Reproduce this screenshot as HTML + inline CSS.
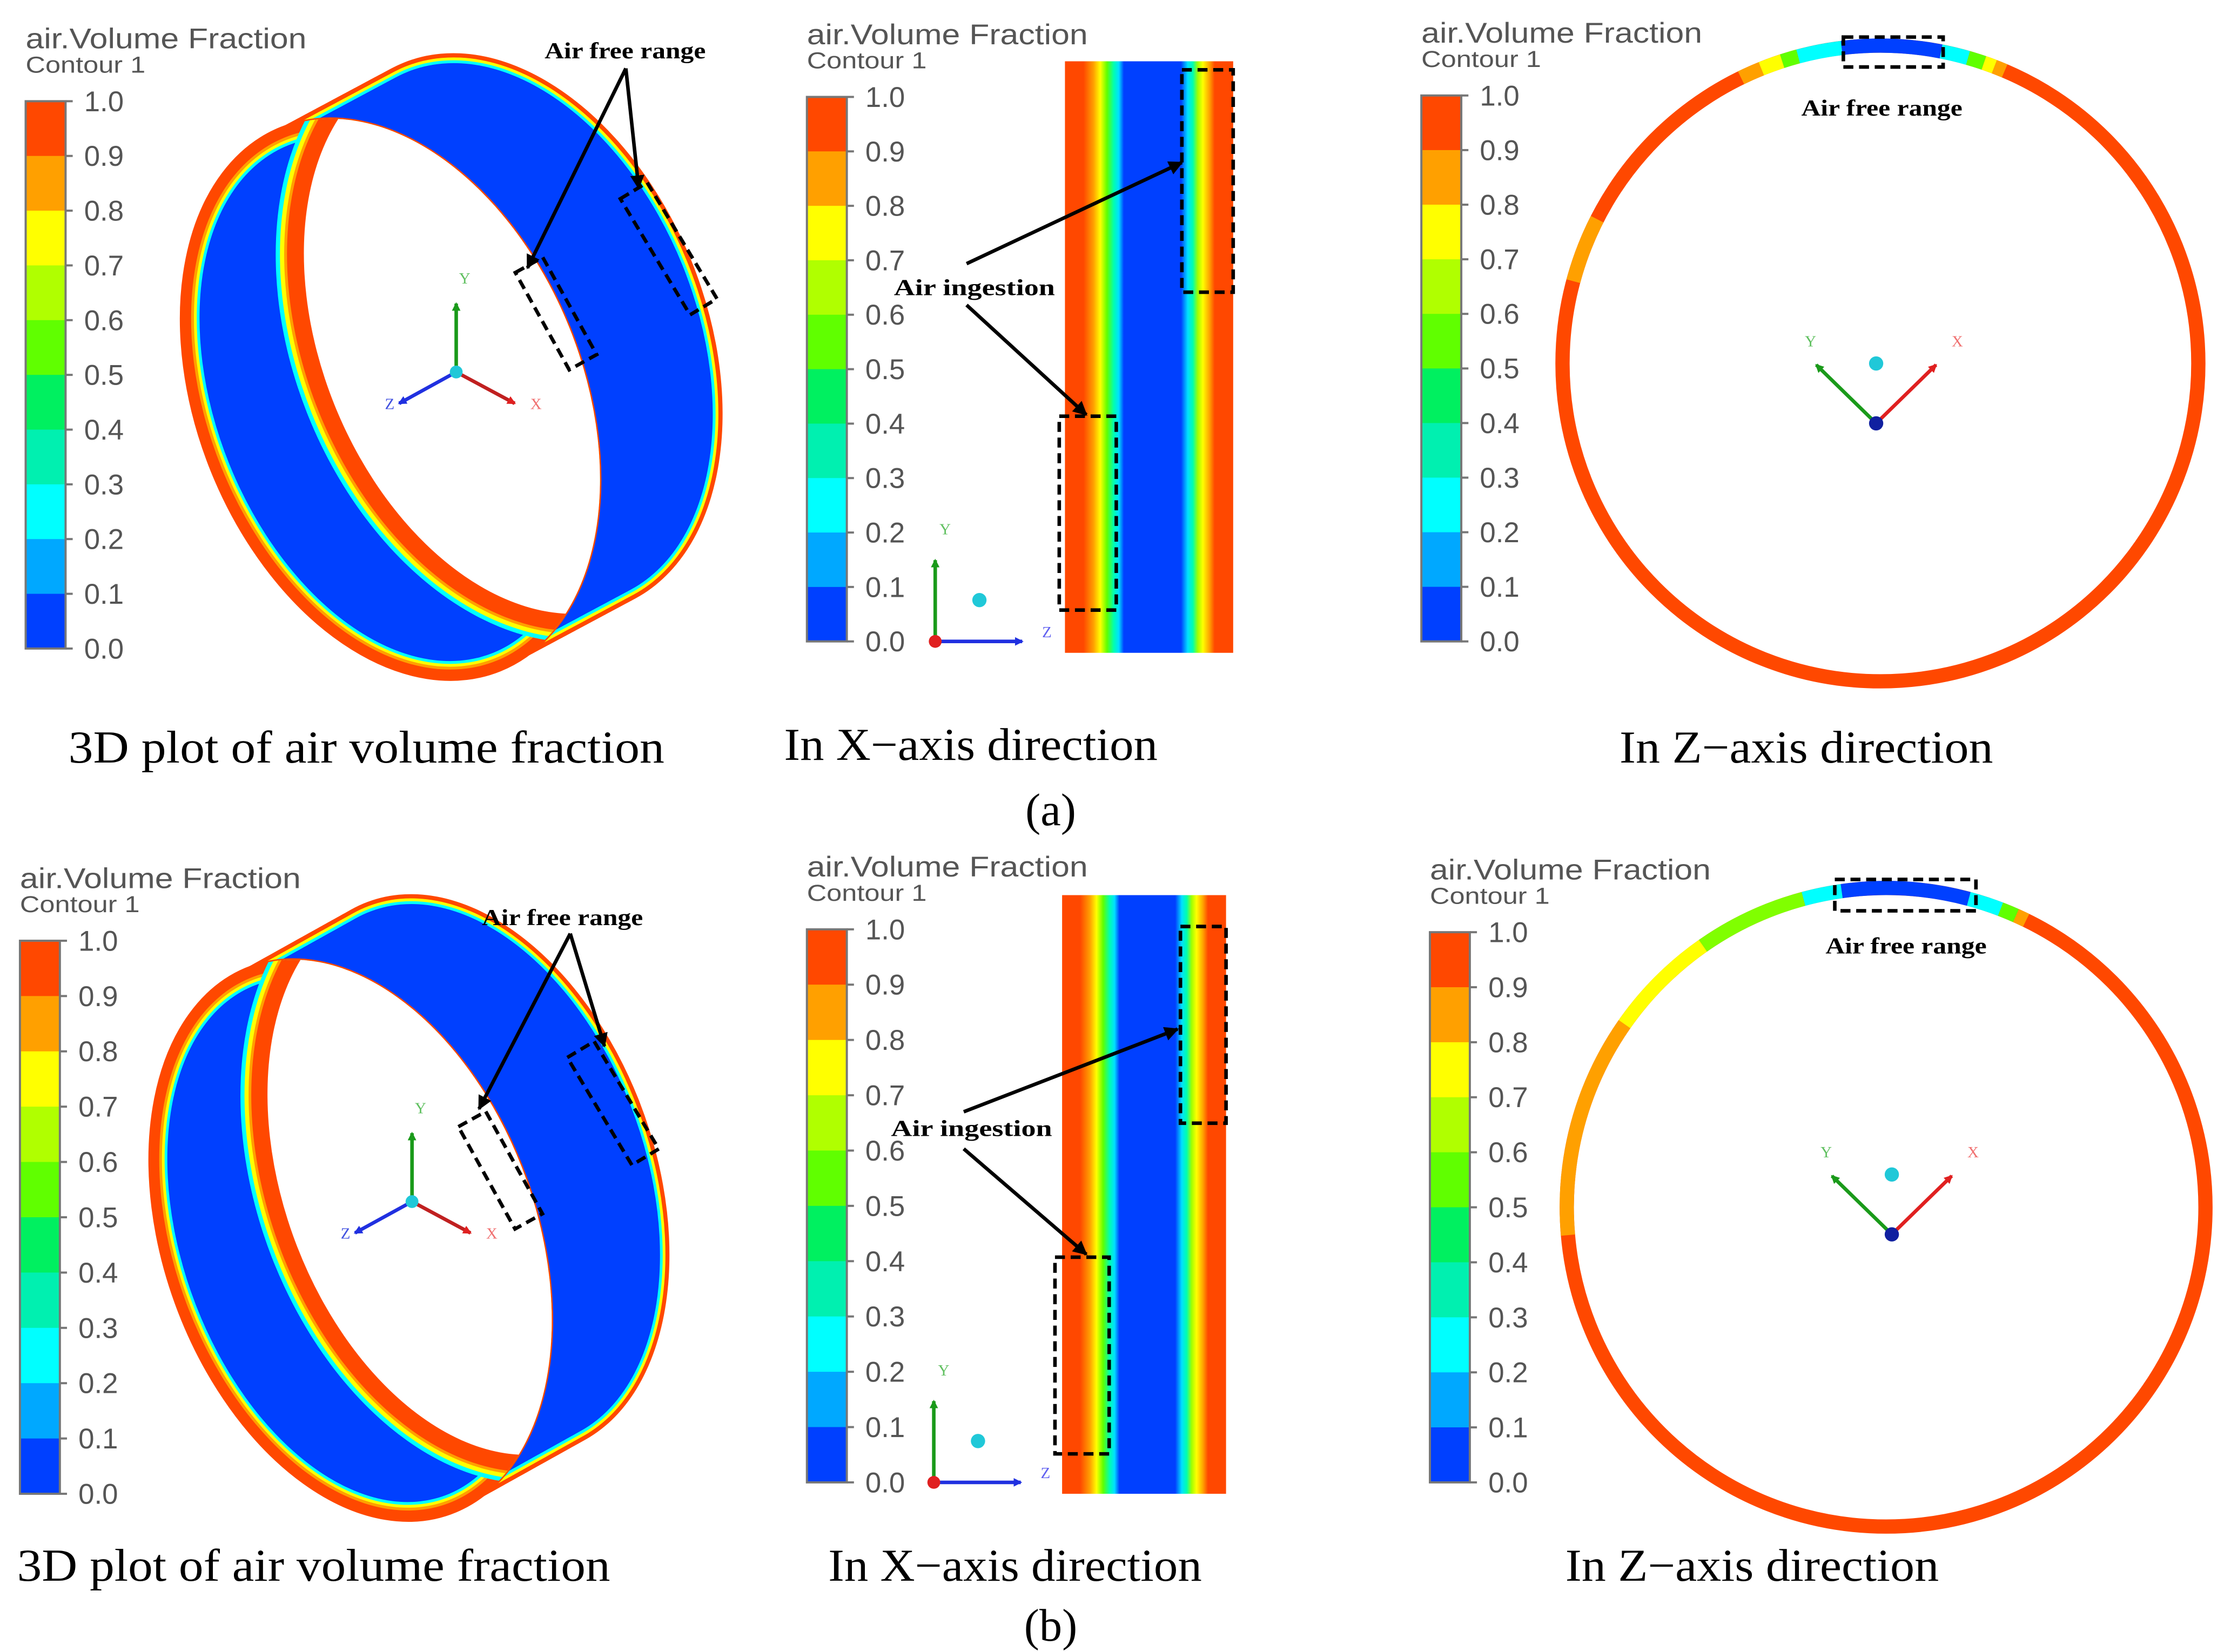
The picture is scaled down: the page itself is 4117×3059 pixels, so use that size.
<!DOCTYPE html>
<html><head><meta charset="utf-8"><style>
html,body{margin:0;padding:0;background:#fff;}
svg{display:block;}
.t{font-family:"Liberation Sans",sans-serif;fill:#555;}
.c{font-family:"Liberation Serif",serif;fill:#000;}
</style></head><body>
<svg id="fig" width="4117" height="3059" viewBox="0 0 1560 1159" preserveAspectRatio="none" xmlns="http://www.w3.org/2000/svg">
<defs>
<linearGradient id="gx" x1="0" x2="1" y1="0" y2="0">
<stop offset="0" stop-color="#ff4800"/><stop offset="0.11" stop-color="#ff4800"/>
<stop offset="0.17" stop-color="#ffa000"/><stop offset="0.21" stop-color="#ffff00"/>
<stop offset="0.25" stop-color="#60ff00"/><stop offset="0.29" stop-color="#00ffb0"/>
<stop offset="0.32" stop-color="#00e0ff"/><stop offset="0.35" stop-color="#0040ff"/>
<stop offset="0.69" stop-color="#0040ff"/><stop offset="0.73" stop-color="#00e0ff"/>
<stop offset="0.76" stop-color="#00ffb0"/><stop offset="0.79" stop-color="#a0ff00"/>
<stop offset="0.82" stop-color="#ffff00"/><stop offset="0.86" stop-color="#ffa000"/>
<stop offset="0.89" stop-color="#ff4800"/><stop offset="1" stop-color="#ff4800"/>
</linearGradient>
<marker id="ah" markerWidth="10" markerHeight="10" refX="9" refY="5" orient="auto" markerUnits="userSpaceOnUse" viewBox="0 0 10 10"><path d="M0,0 L10,5 L0,10 z" fill="#000"/></marker>
<marker id="ahg" markerWidth="6" markerHeight="6" refX="5" refY="3" orient="auto" markerUnits="userSpaceOnUse" viewBox="0 0 6 6"><path d="M0,0 L6,3 L0,6 z" fill="#1a9a1a"/></marker>
<marker id="ahb" markerWidth="6" markerHeight="6" refX="5" refY="3" orient="auto" markerUnits="userSpaceOnUse" viewBox="0 0 6 6"><path d="M0,0 L6,3 L0,6 z" fill="#2030e0"/></marker>
<marker id="ahr" markerWidth="6" markerHeight="6" refX="5" refY="3" orient="auto" markerUnits="userSpaceOnUse" viewBox="0 0 6 6"><path d="M0,0 L6,3 L0,6 z" fill="#e02020"/></marker>
</defs>
<g id="root"></g>
</svg>
<script>
const levels = [1.0,0.9,0.8,0.7,0.6,0.5,0.4,0.3,0.2,0.1,0.0];
const bandColors = ["#ff4800","#ffa000","#ffff00","#b0ff00","#60ff00","#00f060","#00f0b0","#00ffff","#00a8ff","#0040ff"];
/* Z-direction arc segments: start angle, end angle (deg from top, clockwise), colour */
const zStartA = [-75,-26,-22,-18,-15,-7,11,16,19,21];
const zEndA   = [-63,-22,-18,-15,-7,11,16,19,21,23];
const zColA   = ["#ffa000","#ffa000","#ffff00","#60ff00","#00ffff","#0040ff","#00ffff","#60ff00","#ffff00","#ffa000"];
const zStartB = [-95,-55,-35,-15,-8,15,21,24];
const zEndB   = [-55,-35,-15,-8,15,21,24,26];
const zColB   = ["#ffa000","#ffff00","#80ff00","#00ffff","#0040ff","#00ffff","#60ff00","#ffa000"];

const ns="http://www.w3.org/2000/svg";
const root=document.getElementById('root');
function mk(tag,attrs,parent,text){const e=document.createElementNS(ns,tag);for(const k in attrs)e.setAttribute(k,attrs[k]);if(text!==undefined)e.textContent=text;(parent||root).appendChild(e);return e;}

function colorbar(x,y0,y1,name){
  const g=mk('g',{});
  
  
  mk('text',{x:x,y:y0-37,'font-size':20,class:'t',textLength:197,lengthAdjust:'spacingAndGlyphs'},g,'air.Volume Fraction');
  mk('text',{x:x,y:y0-20,'font-size':16,class:'t',textLength:84,lengthAdjust:'spacingAndGlyphs'},g,'Contour 1');
  const n=bandColors.length,h=(y1-y0)/n;
  bandColors.forEach((c,i)=>{const r=mk('rect',{x:x,y:y0+i*h,width:28,height:h+0.5,fill:c},g);
    
    });
  mk('rect',{x:x,y:y0,width:28,height:y1-y0,fill:'none',stroke:'#777','stroke-width':1.5},g);
  levels.forEach((v,i)=>{const yy=y0+i*(y1-y0)/(levels.length-1);
    mk('line',{x1:x+28,x2:x+33,y1:yy,y2:yy,stroke:'#777','stroke-width':1.5},g);
    const t=mk('text',{x:x+41,y:yy+7,'font-size':20,class:'t'},g,v.toFixed(1));
    
    });
}
function triad3d(cx,cy,name){
  const g=mk('g',{'stroke-width':2.5});
  
  
  mk('line',{x1:cx,y1:cy,x2:cx,y2:cy-48,stroke:'#1a9a1a','marker-end':'url(#ahg)'},g);
  mk('line',{x1:cx,y1:cy,x2:cx-40,y2:cy+22,stroke:'#2030e0','marker-end':'url(#ahb)'},g);
  mk('line',{x1:cx,y1:cy,x2:cx+41,y2:cy+22,stroke:'#c02020','marker-end':'url(#ahr)'},g);
  mk('circle',{cx:cx,cy:cy,r:4.5,fill:'#20c8d8'},g);
  mk('text',{x:cx+2,y:cy-62,'font-size':11,fill:'#60c060'},g,'Y');
  mk('text',{x:cx-50,y:cy+26,'font-size':11,fill:'#4050e0'},g,'Z');
  mk('text',{x:cx+52,y:cy+26,'font-size':11,fill:'#f07070'},g,'X');
}
function triadX(cx,cy,name){
  const g=mk('g',{'stroke-width':2.5});
  
  
  mk('line',{x1:cx,y1:cy,x2:cx,y2:cy-57,stroke:'#1a9a1a','marker-end':'url(#ahg)'},g);
  mk('line',{x1:cx,y1:cy,x2:cx+61,y2:cy,stroke:'#2030e0','marker-end':'url(#ahb)'},g);
  mk('circle',{cx:cx,cy:cy,r:4.5,fill:'#e02020'},g);
  mk('circle',{cx:cx+31,cy:cy-29,r:5,fill:'#20c8d8'},g);
  mk('text',{x:cx+3,y:cy-75,'font-size':11,fill:'#60c060'},g,'Y');
  mk('text',{x:cx+75,y:cy-3,'font-size':11,fill:'#6060f0'},g,'Z');
}
function triadZ(cx,cy,name){
  const g=mk('g',{'stroke-width':2.5});
  
  
  mk('line',{x1:cx,y1:cy,x2:cx-42,y2:cy-41,stroke:'#1a9a1a','marker-end':'url(#ahg)'},g);
  mk('line',{x1:cx,y1:cy,x2:cx+42,y2:cy-41,stroke:'#e02020','marker-end':'url(#ahr)'},g);
  mk('circle',{cx:cx,cy:cy,r:5,fill:'#1020a0'},g);
  mk('circle',{cx:cx,cy:cy-42,r:5,fill:'#20c8d8'},g);
  mk('text',{x:cx-50,y:cy-54,'font-size':11,fill:'#60c060'},g,'Y');
  mk('text',{x:cx+53,y:cy-54,'font-size':11,fill:'#f07070'},g,'X');
}
function ring3d(tf,name,id){
  const g=mk('g',{transform:tf});
  
  
  const A=205,B=135,rot=-22;
  const f={cx:274,cy:280},b={cx:360,cy:234};
  const E=(c,d,attrs,p)=>mk('ellipse',Object.assign({cx:c.cx,cy:c.cy,rx:B+d,ry:A+d,transform:`rotate(${rot} ${c.cx} ${c.cy})`},attrs),p||g);
  const layers=[[0,'#ff4800'],[-3,'#ffff00'],[-5,'#00ffff'],[-7,'#0040ff']];
  for(const [d,col] of layers){
    for(let i=0;i<=30;i++){const t=i/30;
      E({cx:f.cx+(b.cx-f.cx)*t,cy:f.cy+(b.cy-f.cy)*t},d,{fill:col});}
  }
  E(f,0,{fill:'none',stroke:'#ff4800','stroke-width':2});
  const cp=mk('clipPath',{id:'cp'+id},g);
  E(f,0,{},cp);
  const ig=mk('g',{'clip-path':`url(#cp${id})`},g);
  E(f,0,{fill:'#ff4800'},ig);
  E(f,-7,{fill:'#ffa000'},ig);
  E(f,-9,{fill:'#ffff00'},ig);
  E(f,-11,{fill:'#00ffff'},ig);
  E(f,-13,{fill:'#0040ff'},ig);
  E(b,20,{fill:'#00ffff'},ig);
  E(b,17,{fill:'#ffff00'},ig);
  E(b,14,{fill:'#ffa000'},ig);
  E(b,12,{fill:'#ff4800'},ig);
  E(b,0,{fill:'#fff'},ig);
}
function dbox(x,y,w,h,rot,name){const r=mk('rect',{x:x,y:y,width:w,height:h,fill:'none',stroke:'#000','stroke-width':2.5,'stroke-dasharray':'7,4',transform:rot?`rotate(${rot} ${x+w/2} ${y+h/2})`:''});
  
  }
function arrow(x1,y1,x2,y2){const l=mk('line',{x1:x1,y1:y1,x2:x2,y2:y2,stroke:'#000','stroke-width':2.5,'marker-end':'url(#ah)'});
  
  }
function label(x,y,s,anchor){const t=mk('text',{x:x,y:y,'font-size':16,'font-weight':'bold',class:'c','text-anchor':anchor||'start',textLength:113,lengthAdjust:'spacingAndGlyphs'},root,s);
  
  }
function caption(x,y,s,w){const t=mk('text',{x:x,y:y,'font-size':32,class:'c','text-anchor':'middle'},root,s);
  if(w){t.setAttribute('textLength',w);t.setAttribute('lengthAdjust','spacingAndGlyphs');}
  
  }
function xpanel(x,y,w,h,name){const r=mk('rect',{x:x,y:y,width:w,height:h,fill:'url(#gx)'});
  
  }
function zring(cx,cy,r,starts,ends,cols,name){
  const g=mk('g',{});
  
  
  mk('circle',{cx:cx,cy:cy,r:r,fill:'none',stroke:'#ff4800','stroke-width':10},g);
  const p=a=>[cx+r*Math.sin(a*Math.PI/180),cy-r*Math.cos(a*Math.PI/180)];
  starts.forEach((s,i)=>{const [xa,ya]=p(s),[xb,yb]=p(ends[i]);
    const a=mk('path',{d:`M${xa},${ya} A${r},${r} 0 0 1 ${xb},${yb}`,fill:'none',stroke:cols[i],'stroke-width':10},g);
    
    });
}

/* Row a */
ring3d('','ring-3d-a','a');
colorbar(18,71,455,'colorbar-3d-a');
triad3d(320,261,'axis-triad-3d-a');
dbox(379,181,22,78,-29,'air-free-box-inner-a');
dbox(458,127,22,95,-31,'air-free-box-outer-a');
label(382,41,'Air free range');
arrow(439,48,370,188);arrow(439,48,448,132);
colorbar(566,68,450,'colorbar-x-a');
xpanel(747,43,118,415,'x-direction-contour-a');
dbox(829,49,36,156,0,'air-free-box-x-a');
dbox(743,292,40,136,0,'air-ingestion-box-x-a');
label(627,207,'Air ingestion');
arrow(678,185,829,114);arrow(678,214,762,291);
triadX(656,450,'axis-triad-x-a');
colorbar(997,67,450,'colorbar-z-a');
zring(1319,255,223,zStartA,zEndA,zColA,'z-direction-contour-a');
dbox(1293,26,70,21,0,'air-free-box-z-a');
label(1320,81,'Air free range','middle');
triadZ(1316,297,'axis-triad-z-a');
caption(257,535,'3D plot of air volume fraction',418);
caption(681,533,'In X\u2212axis direction',262);
caption(1267,535,'In Z\u2212axis direction',262);
caption(737,579,'(a)');

/* Row b */
ring3d('translate(-17,590) scale(0.96,1)','ring-3d-b','b');
colorbar(14,660,1048,'colorbar-3d-b');
triad3d(289,843,'axis-triad-3d-b');
dbox(340,780,22,82,-29,'air-free-box-inner-b');
dbox(419,730,22,88,-31,'air-free-box-outer-b');
label(338,649,'Air free range');
arrow(400,655,336,778);arrow(400,655,424,734);
colorbar(566,652,1040,'colorbar-x-b');
xpanel(745,628,115,420,'x-direction-contour-b');
dbox(828,650,32,138,0,'air-free-box-x-b');
dbox(740,882,38,138,0,'air-ingestion-box-x-b');
label(625,797,'Air ingestion');
arrow(676,780,826,722);arrow(676,806,762,880);
triadX(655,1040,'axis-triad-x-b');
colorbar(1003,654,1040,'colorbar-z-b');
zring(1323,847,224,zStartB,zEndB,zColB,'z-direction-contour-b');
dbox(1287,617,99,22,0,'air-free-box-z-b');
label(1337,669,'Air free range','middle');
triadZ(1327,866,'axis-triad-z-b');
caption(220,1109,'3D plot of air volume fraction',416);
caption(712,1109,'In X\u2212axis direction',262);
caption(1229,1109,'In Z\u2212axis direction',262);
caption(737,1151,'(b)');
</script>
</body></html>
